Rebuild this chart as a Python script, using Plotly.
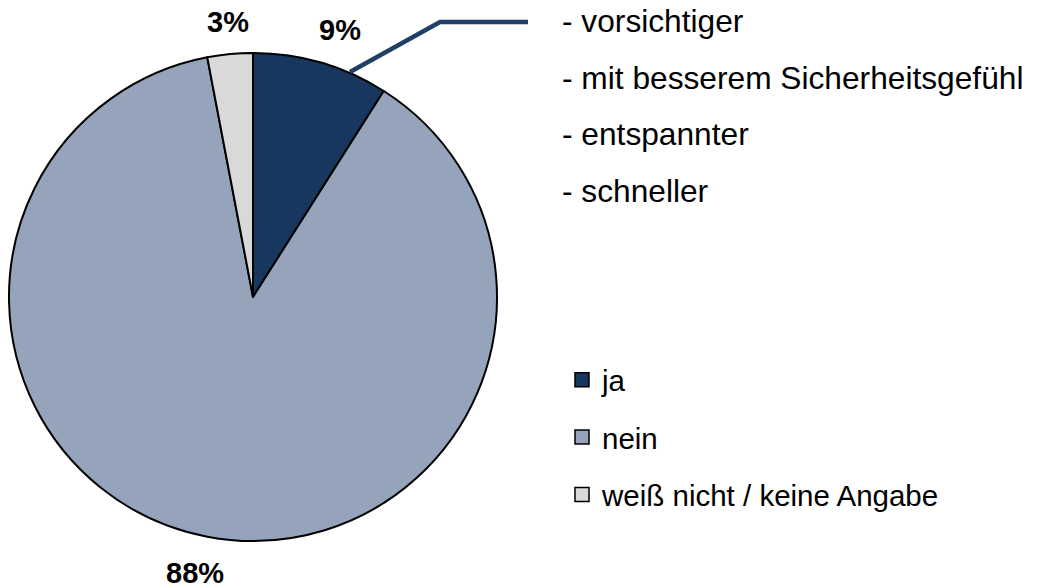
import plotly.graph_objects as go

categories = ["ja", "nein", "weiß nicht / keine Angabe"]
values = [9, 88, 3]
pct_labels = ["9%", "88%", "3%"]
colors = ["#17375E", "#95A3BB", "#D9D9D9"]
reasons = ["- vorsichtiger", "- mit besserem Sicherheitsgefühl", "- entspannter", "- schneller"]

W, H = 1039, 588
FONT = "Liberation Sans, Arial, sans-serif"


def px(x):
    return x / W


def py(y):
    return 1 - y / H


fig = go.Figure()
fig.add_trace(go.Pie(
    labels=categories, values=values, sort=False, direction="clockwise", rotation=0,
    marker=dict(colors=colors, line=dict(color="black", width=2)),
    textinfo="none", hoverinfo="label+percent", showlegend=False,
    domain=dict(x=[px(9), px(497)], y=[py(542), py(52)]),
))

# legend entries
for i, (c, col) in enumerate(zip(categories, colors)):
    fig.add_trace(go.Scatter(
        x=[None], y=[None], mode="markers", name=c, legendgroup=f"g{i}",
        marker=dict(symbol="square", size=14, color=col, line=dict(color="black", width=1.5)),
    ))

# percentage labels
pct_pos = [(340, 30), (195, 573), (228, 22)]
for lab, (x, y) in zip(pct_labels, pct_pos):
    fig.add_annotation(x=px(x), y=py(y), xref="paper", yref="paper", text=f"<b>{lab}</b>",
                       showarrow=False, font=dict(family=FONT, size=29, color="black"),
                       xanchor="center", yanchor="middle")

# reasons text
for i, r in enumerate(reasons):
    y = 21 + i * 56.7
    fig.add_annotation(x=px(560), y=py(y), xref="paper", yref="paper", text=r,
                       showarrow=False, font=dict(family=FONT, size=31.7, color="black"),
                       xanchor="left", yanchor="middle")

# connector line
fig.add_shape(type="path", xref="paper", yref="paper",
              path=f"M {px(350)},{py(72)} L {px(440)},{py(22)} L {px(528)},{py(22)}",
              line=dict(color="#1F3F66", width=4.5))

fig.update_layout(
    width=W, height=H, margin=dict(l=0, r=0, t=0, b=0),
    paper_bgcolor="white", plot_bgcolor="white",
    xaxis=dict(visible=False), yaxis=dict(visible=False),
    legend=dict(x=px(562), y=py(354), xanchor="left", yanchor="top",
                font=dict(family=FONT, size=29.5, color="black"),
                tracegroupgap=16, bgcolor="rgba(0,0,0,0)"),
    font=dict(family=FONT),
)

fig.write_html("out.html", config={"displayModeBar": False},
               post_script="document.body.style.margin='0';")
